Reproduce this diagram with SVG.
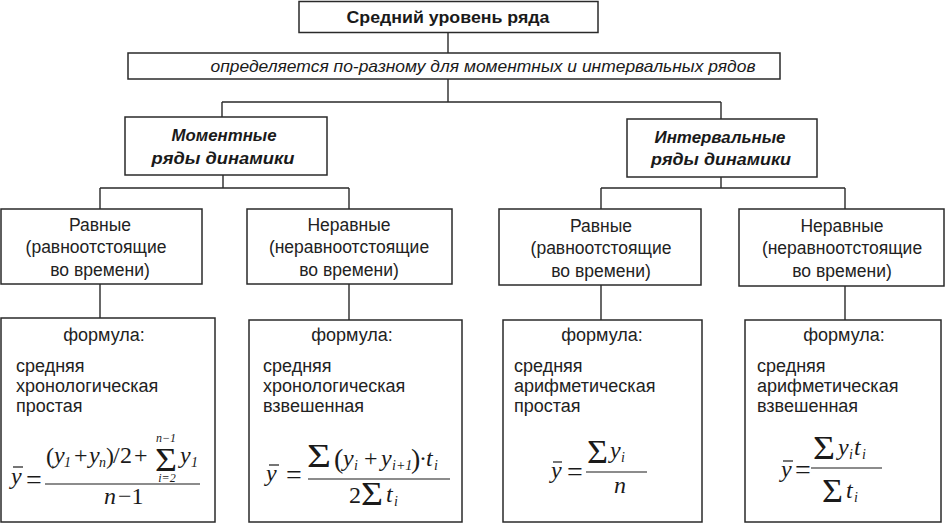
<svg xmlns="http://www.w3.org/2000/svg" width="945" height="523" viewBox="0 0 945 523">
<style>
.box{fill:#fff;stroke:#2a2a2a;stroke-width:1.5}
.ln{fill:none;stroke:#2a2a2a;stroke-width:1.4}
.bar{stroke:#1a1a1a;stroke-width:1.2}
.h{font-family:"Liberation Sans",Arial,sans-serif;font-size:17px;font-weight:bold;fill:#1a1a1a}
.hi{font-family:"Liberation Sans",Arial,sans-serif;font-size:17px;font-weight:bold;font-style:italic;fill:#1a1a1a}
.it{font-family:"Liberation Sans",Arial,sans-serif;font-size:17px;font-style:italic;fill:#1a1a1a}
.t{font-family:"Liberation Sans",Arial,sans-serif;font-size:17.5px;fill:#222}
.f{font-family:"Liberation Sans",Arial,sans-serif;font-size:18px;fill:#222}
.m{font-family:"Liberation Serif","Times New Roman",serif;font-size:24px;font-style:italic;fill:#1a1a1a}
.mu{font-family:"Liberation Serif","Times New Roman",serif;font-size:24px;fill:#1a1a1a}
.eq{font-family:"Liberation Serif","Times New Roman",serif;font-size:28px;fill:#1a1a1a}
.p{font-family:"Liberation Serif","Times New Roman",serif;font-size:28px;fill:#1a1a1a}
.ms{font-family:"Liberation Serif","Times New Roman",serif;font-size:14px;font-style:italic;fill:#1a1a1a}
.sl{font-family:"Liberation Serif","Times New Roman",serif;font-size:12px;font-style:italic;fill:#1a1a1a;text-anchor:middle}
.sg{font-family:"Liberation Serif","Times New Roman",serif;font-size:34px;fill:#1a1a1a}
.c{text-anchor:middle}
</style>
<g id="connectors">
<path class="ln" d="M448 32V53M448 79V102M222 102H721M222 102V117M721 102V119"/>
<path class="ln" d="M223 175V188M100 188H349M100 188V209M349 188V209"/>
<path class="ln" d="M721 177V188M601 188H845M601 188V209M845 188V209"/>
<path class="ln" d="M100 284V318M349 284V320M601 285V320M845 286V320"/>
</g>
<g id="n-root">
<rect class="box" x="299" y="1.5" width="299" height="31"/>
<text class="h c" x="448" y="23" textLength="203" lengthAdjust="spacingAndGlyphs">Средний уровень ряда</text>
</g>
<g id="n-def">
<rect class="box" x="128" y="53" width="652" height="26"/>
<text class="it c" x="483" y="72" textLength="545" lengthAdjust="spacingAndGlyphs">определяется по-разному для моментных и интервальных рядов</text>
</g>
<g id="n-moment">
<rect class="box" x="125" y="117" width="202" height="58"/>
<text class="hi c" x="224" y="141" textLength="105" lengthAdjust="spacingAndGlyphs">Моментные</text>
<text class="hi c" x="223" y="164" textLength="143" lengthAdjust="spacingAndGlyphs">ряды динамики</text>
</g>
<g id="n-interval">
<rect class="box" x="627" y="119" width="190" height="58"/>
<text class="hi c" x="720" y="143" textLength="131" lengthAdjust="spacingAndGlyphs">Интервальные</text>
<text class="hi c" x="721" y="165" textLength="140" lengthAdjust="spacingAndGlyphs">ряды динамики</text>
</g>
<g id="n-m-equal">
<rect class="box" x="1" y="209" width="201" height="75"/>
<text class="t c" x="100" y="231">Равные</text>
<text class="t c" x="96" y="253">(равноотстоящие</text>
<text class="t c" x="100" y="276">во времени)</text>
</g>
<g id="n-m-unequal">
<rect class="box" x="247" y="209" width="205" height="75"/>
<text class="t c" x="349" y="231">Неравные</text>
<text class="t c" x="349" y="253">(неравноотстоящие</text>
<text class="t c" x="349" y="276">во времени)</text>
</g>
<g id="n-i-equal">
<rect class="box" x="499" y="209" width="202" height="76"/>
<text class="t c" x="601" y="232">Равные</text>
<text class="t c" x="601" y="254">(равноотстоящие</text>
<text class="t c" x="601" y="277">во времени)</text>
</g>
<g id="n-i-unequal">
<rect class="box" x="739" y="209" width="205" height="77"/>
<text class="t c" x="842" y="232">Неравные</text>
<text class="t c" x="842" y="254">(неравноотстоящие</text>
<text class="t c" x="842" y="277">во времени)</text>
</g>
<g id="n-f1">
<rect class="box" x="1" y="318" width="214" height="204"/>
<text class="f c" x="104" y="341">формула:</text>
<text class="f" x="16" y="372">средняя</text>
<text class="f" x="16" y="392">хронологическая</text>
<text class="f" x="16" y="412">простая</text>
<text class="m" x="11" y="484">y</text>
<line class="bar" x1="13" y1="467" x2="23" y2="467"/>
<text class="eq" x="26" y="489">=</text>
<line class="bar" x1="45" y1="484" x2="200" y2="484"/>
<text class="mu" x="46" y="464">(</text>
<text class="m" x="54" y="463">y</text>
<text class="ms" x="64" y="467">1</text>
<text class="mu" x="74" y="463">+</text>
<text class="m" x="89" y="463">y</text>
<text class="ms" x="99" y="467">n</text>
<text class="mu" x="106" y="464">)</text>
<text class="mu" x="113" y="463">/</text>
<text class="mu" x="120" y="463">2</text>
<text class="mu" x="134" y="463">+</text>
<text class="sg" x="155" y="471" textLength="22" lengthAdjust="spacingAndGlyphs">Σ</text>
<text class="sl" x="166" y="442">n−1</text>
<text class="sl" x="167" y="482">i=2</text>
<text class="m" x="180" y="463">y</text>
<text class="ms" x="191" y="467">1</text>
<text class="m" x="104" y="504">n</text>
<text class="mu" x="118" y="504">−1</text>
</g>
<g id="n-f2">
<rect class="box" x="249" y="320" width="213" height="202"/>
<text class="f c" x="352" y="341">формула:</text>
<text class="f" x="263" y="372">средняя</text>
<text class="f" x="263" y="392">хронологическая</text>
<text class="f" x="263" y="412">взвешенная</text>
<text class="m" x="266" y="481">y</text>
<line class="bar" x1="269" y1="465" x2="279" y2="465"/>
<text class="eq" x="286" y="484">=</text>
<line class="bar" x1="308" y1="479" x2="450" y2="479"/>
<text class="sg" x="307" y="467" textLength="24" lengthAdjust="spacingAndGlyphs">Σ</text>
<text class="p" x="334" y="468">(</text>
<text class="m" x="343" y="466">y</text>
<text class="ms" x="354" y="470">i</text>
<text class="mu" x="364" y="466">+</text>
<text class="m" x="381" y="466">y</text>
<text class="ms" x="392" y="470">i+1</text>
<text class="p" x="411" y="468">)</text>
<text class="mu" x="419" y="466">·</text>
<text class="m" x="426" y="466">t</text>
<text class="ms" x="434" y="470">i</text>
<text class="mu" x="349" y="503">2</text>
<text class="sg" x="361" y="505" textLength="22" lengthAdjust="spacingAndGlyphs">Σ</text>
<text class="m" x="386" y="502">t</text>
<text class="ms" x="394" y="506">i</text>
</g>
<g id="n-f3">
<rect class="box" x="503" y="320" width="199" height="202"/>
<text class="f c" x="602" y="341">формула:</text>
<text class="f" x="514" y="372">средняя</text>
<text class="f" x="514" y="392">арифметическая</text>
<text class="f" x="514" y="412">простая</text>
<text class="m" x="551" y="478">y</text>
<line class="bar" x1="553" y1="462" x2="562" y2="462"/>
<text class="eq" x="567" y="481">=</text>
<line class="bar" x1="586" y1="472" x2="647" y2="472"/>
<text class="sg" x="587" y="463" textLength="21" lengthAdjust="spacingAndGlyphs">Σ</text>
<text class="m" x="610" y="458">y</text>
<text class="ms" x="621" y="462">i</text>
<text class="m" x="614" y="493">n</text>
</g>
<g id="n-f4">
<rect class="box" x="745" y="320" width="196" height="202"/>
<text class="f c" x="844" y="341">формула:</text>
<text class="f" x="757" y="372">средняя</text>
<text class="f" x="757" y="392">арифметическая</text>
<text class="f" x="757" y="412">взвешенная</text>
<text class="m" x="781" y="477">y</text>
<line class="bar" x1="783" y1="461" x2="793" y2="461"/>
<text class="eq" x="795" y="479">=</text>
<line class="bar" x1="811" y1="468" x2="882" y2="468"/>
<text class="sg" x="813" y="459" textLength="22" lengthAdjust="spacingAndGlyphs">Σ</text>
<text class="m" x="838" y="455">y</text>
<text class="ms" x="849" y="459">i</text>
<text class="m" x="854" y="455">t</text>
<text class="ms" x="862" y="459">i</text>
<text class="sg" x="822" y="502" textLength="21" lengthAdjust="spacingAndGlyphs">Σ</text>
<text class="m" x="846" y="498">t</text>
<text class="ms" x="854" y="502">i</text>
</g>
</svg>
